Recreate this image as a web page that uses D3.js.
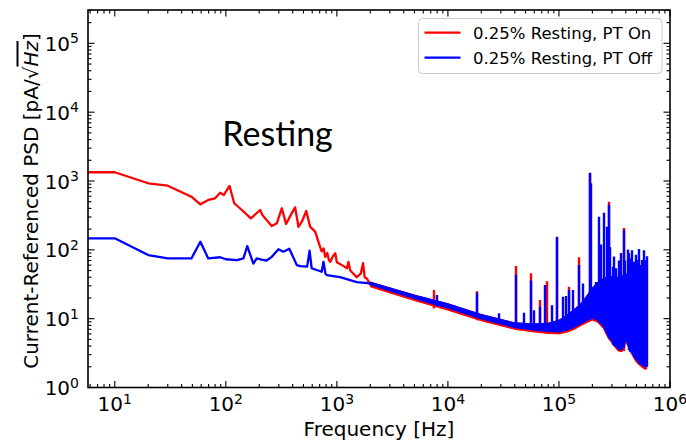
<!DOCTYPE html>
<html lang="en">
<head>
<meta charset="UTF-8" />
<title>Current-Referenced PSD, Resting</title>
<script src="https://d3js.org/d3.v7.min.js"></script>
<style>
  body { margin: 0; background: #fff; }
  svg { display: block; font-family: "DejaVu Sans", sans-serif; }
</style>
</head>
<body>
<svg id="chart" width="686" height="440"></svg>
<script>
// ---- data (Hz, pA/sqrt(Hz)) ----
const seriesLabels = ["0.25% Resting, PT On", "0.25% Resting, PT Off"];
const seriesColors = ["red", "blue"];
const xTickExp = [1, 2, 3, 4, 5, 6];
const yTickExp = [0, 1, 2, 3, 4, 5];

// low-frequency trace, PT On
const freqOn = [5.74, 10, 20, 30, 49, 59, 69.5, 80, 89, 96, 108, 119, 134, 168, 204, 213, 259, 288, 319, 349,
  385, 421, 451, 484, 530, 575, 638, 700, 730, 760, 785, 820, 850, 872, 920, 968, 1000, 1037, 1150, 1234,
  1270, 1320, 1510, 1640, 1720, 1780, 1870, 2000];
const psdOn = [1340, 1340, 927, 855, 592, 458, 530, 561, 677, 627, 847, 475, 402, 287, 379, 322, 222, 243, 402, 238,
  322, 414, 216, 256, 367, 216, 184, 115, 95, 105, 79, 90, 70, 67, 80, 89, 66, 64, 58, 54,
  67, 50, 40, 45, 64, 40, 38, 31];

// low-frequency trace, PT Off
const freqOff = [5.74, 10, 20, 30, 49, 59, 69.5, 89, 100, 126, 144, 156, 177, 190, 210, 233, 259, 298, 330, 373,
  436, 468, 540, 568, 593, 730, 758, 790, 813, 1070, 1510, 2000];
const psdOff = [147, 147, 84, 75, 75, 131, 75, 78, 73, 71, 75, 113, 63, 75, 72, 70, 79, 102, 94, 104,
  60, 58, 57, 97, 54, 48, 67, 45, 43, 40, 34, 32.5];

// dense noise band above 2 kHz
const bandFreq = [2000, 5000, 1e4, 2e4, 4e4, 6e4, 8e4, 1e5, 1.2e5, 1.4e5, 1.6e5, 1.8e5, 2.0e5, 2.2e5, 2.5e5,
  2.8e5, 3.1e5, 3.4e5, 3.7e5, 4.0e5, 4.4e5, 4.9e5, 5.4e5, 5.9e5, 6.17e5];
const bandTop = [34, 22, 16.5, 11.5, 8.7, 8.4, 8.6, 9.5, 11.5, 14, 17, 22, 28, 33, 38,
  42, 40, 40, 42, 45, 42, 45, 48, 48, 50];
const bandLowOff = [31, 19.5, 14.2, 9.9, 7.4, 6.8, 6.5, 6.4, 6.8, 7.6, 8.5, 9.4, 10.1, 9.6, 7.8,
  5.4, 4.4, 3.6, 3.5, 4.9, 3.5, 2.6, 2.2, 2.0, 2.0];
const bandLowOn = [29, 18.3, 13.3, 9.3, 7.0, 6.4, 6.1, 6.0, 6.4, 7.1, 8.0, 8.8, 9.5, 9.0, 7.3,
  5.1, 4.1, 3.4, 3.3, 4.6, 3.3, 2.4, 2.05, 1.85, 1.85];

// narrow peaks: frequency, base, peak
const spikeFreqOn = [7470, 18400, 40700, 55600, 67600, 78800, 97000, 123000, 152000, 190000, 280000, 382000];
const spikeBaseOn = [14, 9.5, 7.1, 6.5, 6.4, 6.1, 6, 6.5, 7.8, 9.3, 5.1, 3.4];
const spikePeakOn = [26, 25, 58, 45.6, 18.6, 35, 150, 29, 78, 1300, 501, 208];

const spikeFreqOff = [8000, 18400, 28800, 40700, 48400, 55600, 59500, 67600, 75000, 87400, 97000, 108000,
  115000, 123000, 135000, 152000, 163000, 190000, 194000, 215000, 230000, 240000, 252000, 270000, 280000,
  290000, 304000, 315000, 326000, 345000, 360000, 382000, 395000, 415000, 430000, 440000, 451000, 476000,
  490000, 500000, 528000, 540000, 556000, 579000, 600000, 617000];
const spikeBaseOff = [15, 10.5, 8.7, 7.5, 7.2, 7, 6.9, 6.8, 6.6, 6.5, 6.4, 6.6,
  6.7, 6.9, 7.3, 8.1, 8.6, 9.8, 9.9, 9.7, 9, 8.5, 7.7, 6, 5.4,
  5, 4.2, 4, 3.8, 3.6, 3.5, 3.8, 4.6, 4.2, 3.5, 3.3, 3.2, 2.8,
  2.6, 2.5, 2.2, 2.2, 2.1, 2.0, 2.0, 2.0];
const spikePeakOff = [22, 24, 12, 44, 12.2, 36, 13.3, 14.9, 30.8, 15.7, 155, 20.8,
  21.3, 26, 26, 60, 32.5, 1320, 927, 34, 303, 120, 346, 216, 450,
  110, 57, 80, 54, 70, 90, 194, 70, 101, 89, 75, 99, 67,
  85, 71, 103, 60, 71, 99, 70, 81];

// ---- layout ----
const svg = d3.select("#chart"),
      margin = { top: 10, right: 16, bottom: 52.5, left: 88 },
      width = +svg.attr("width") - margin.left - margin.right,
      height = +svg.attr("height") - margin.top - margin.bottom,
      g = svg.append("g").attr("transform", `translate(${margin.left},${margin.top})`);

const x = d3.scaleLog().domain([5.74, 1e6]).range([0, width]);
const y = d3.scaleLog().domain([1, 3.05e5]).range([height, 0]);

g.append("clipPath").attr("id", "plotClip")
  .append("rect").attr("width", width).attr("height", height);

const plot = g.append("g").attr("clip-path", "url(#plotClip)");

const line = d3.line().x(d => x(d[0])).y(d => y(d[1]));
const area = d3.area().x(d => x(d.f)).y0(d => y(d.lo)).y1(d => y(d.hi));

function drawSeries(color, freq, psd, lows, sF, sB, sP) {
  const layer = plot.append("g");
  layer.append("path")
    .datum(bandFreq.map((f, i) => ({ f, lo: lows[i], hi: bandTop[i] })))
    .attr("d", area)
    .attr("fill", color)
    .attr("stroke", color)
    .attr("stroke-width", 1)
    .attr("stroke-linejoin", "round");
  layer.append("path")
    .datum(freq.map((f, i) => [f, psd[i]]))
    .attr("d", line)
    .attr("fill", "none")
    .attr("stroke", color)
    .attr("stroke-width", 2.3)
    .attr("stroke-linejoin", "round");
  // snap each peak to whole pixels so it stays solid
  layer.selectAll("line.spike")
    .data(sF.map((f, i) => ({ f, b: sB[i], p: sP[i] })))
    .join("line")
    .attr("class", "spike")
    .attr("x1", d => Math.round(x(d.f))).attr("x2", d => Math.round(x(d.f)))
    .attr("y1", d => y(d.b)).attr("y2", d => y(d.p))
    .attr("stroke", color)
    .attr("stroke-width", 2.4);
}

drawSeries(seriesColors[0], freqOn, psdOn, bandLowOn, spikeFreqOn, spikeBaseOn, spikePeakOn);
drawSeries(seriesColors[1], freqOff, psdOff, bandLowOff, spikeFreqOff, spikeBaseOff, spikePeakOff);

// ---- ticks (inward, all four sides) ----
const xMajor = xTickExp.map(e => Math.pow(10, e));
const yMajor = yTickExp.map(e => Math.pow(10, e));
const xMinor = [], yMinor = [];
for (let e = 0; e <= 5; e++) for (let m = 2; m <= 9; m++) {
  const v = m * Math.pow(10, e);
  if (v > x.domain()[0] && v < x.domain()[1]) xMinor.push(v);
  if (v > y.domain()[0] && v < y.domain()[1]) yMinor.push(v);
}
const ticks = g.append("g").attr("stroke", "#000").attr("stroke-width", 1.1);
function vTicks(vals, len) {
  vals.forEach(v => {
    ticks.append("line").attr("x1", x(v)).attr("x2", x(v)).attr("y1", height).attr("y2", height - len);
    ticks.append("line").attr("x1", x(v)).attr("x2", x(v)).attr("y1", 0).attr("y2", len);
  });
}
function hTicks(vals, len) {
  vals.forEach(v => {
    ticks.append("line").attr("y1", y(v)).attr("y2", y(v)).attr("x1", 0).attr("x2", len);
    ticks.append("line").attr("y1", y(v)).attr("y2", y(v)).attr("x1", width).attr("x2", width - len);
  });
}
vTicks(xMajor, 6.5); vTicks(xMinor, 3.5);
hTicks(yMajor, 6.5); hTicks(yMinor, 3.5);

g.append("rect")
  .attr("width", width).attr("height", height)
  .attr("fill", "none").attr("stroke", "#000").attr("stroke-width", 1.6);

// tick labels
xTickExp.forEach(e => {
  const t = g.append("text")
    .attr("x", x(Math.pow(10, e))).attr("y", height + 23.5)
    .attr("text-anchor", "middle").attr("font-size", 20).attr("fill", "#000");
  t.append("tspan").text("10");
  t.append("tspan").attr("dy", -7).attr("font-size", 14).text(e);
});
yTickExp.forEach(e => {
  const t = g.append("text")
    .attr("x", -9).attr("y", y(Math.pow(10, e)) + 7.5)
    .attr("text-anchor", "end").attr("font-size", 20).attr("fill", "#000");
  t.append("tspan").text("10");
  t.append("tspan").attr("dy", -7.5).attr("font-size", 14).text(e);
});

// axis titles
g.append("text")
  .attr("x", width / 2).attr("y", height + 48)
  .attr("text-anchor", "middle").attr("font-size", 20)
  .text("Frequency [Hz]");

const yl = svg.append("text")
  .attr("transform", "translate(37.5,201) rotate(-90)")
  .attr("text-anchor", "middle").attr("font-size", 20);
yl.append("tspan").text("Current-Referenced PSD [pA/√");
yl.append("tspan").attr("font-style", "italic").style("text-decoration", "overline").text("Hz");
yl.append("tspan").text("]");

// annotation
g.append("text")
  .attr("x", x(93)).attr("y", y(3200))
  .attr("font-family", "Lato, sans-serif").attr("font-size", 34)
  .text("Resting");

// legend
const leg = svg.append("g").attr("transform", "translate(418.5,18.5)");
leg.append("rect")
  .attr("width", 243.5).attr("height", 55).attr("rx", 4)
  .attr("fill", "#fff").attr("fill-opacity", 0.8)
  .attr("stroke", "#ccc").attr("stroke-width", 1);
seriesLabels.forEach((lab, i) => {
  const row = leg.append("g").attr("transform", `translate(0,${14.2 + i * 25})`);
  row.append("line").attr("x1", 6).attr("x2", 42)
    .attr("stroke", seriesColors[i]).attr("stroke-width", 2.2);
  row.append("text").attr("x", 54.5).attr("y", 6)
    .attr("font-size", 16.5).text(lab);
});
</script>
</body>
</html>
